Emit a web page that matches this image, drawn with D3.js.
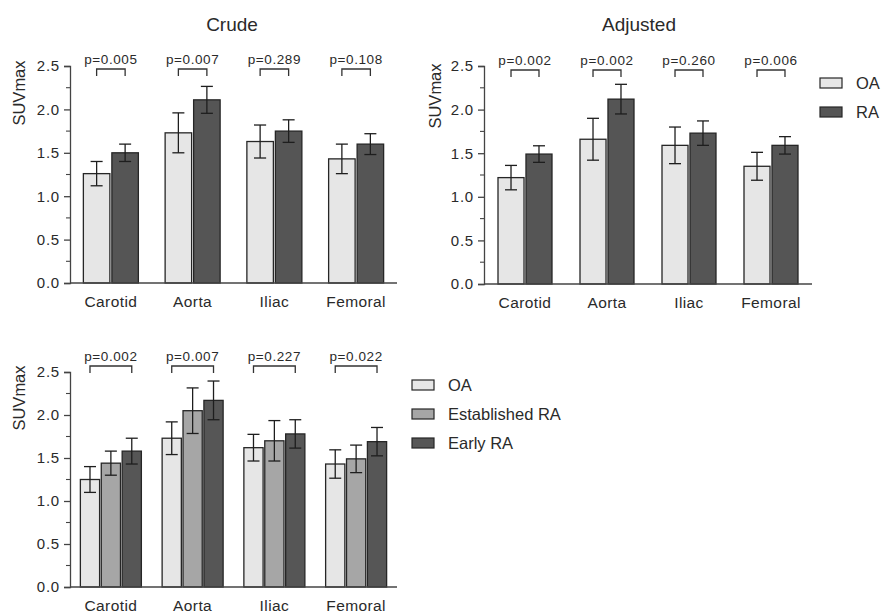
<!DOCTYPE html>
<html><head><meta charset="utf-8">
<script src="https://cdn.jsdelivr.net/npm/d3@7"></script>
<style>
html,body{margin:0;padding:0;background:#fff;}
text{font-family:"Liberation Sans",Arial,Helvetica,sans-serif;fill:#2a2a2a;}
</style></head>
<body><svg id="c" width="884" height="615"></svg>
<script>
// ---- data ----
const categories = ["Carotid", "Aorta", "Iliac", "Femoral"];
const yTicks = [0, 0.5, 1.0, 1.5, 2.0, 2.5];

const crudeOA = [1.26, 1.73, 1.63, 1.43];
const crudeOAErr = [0.14, 0.23, 0.19, 0.17];
const crudeRA = [1.50, 2.11, 1.75, 1.60];
const crudeRAErr = [0.10, 0.155, 0.13, 0.12];
const crudeP = ["p=0.005", "p=0.007", "p=0.289", "p=0.108"];

const adjOA = [1.22, 1.66, 1.59, 1.35];
const adjOAErr = [0.14, 0.24, 0.21, 0.16];
const adjRA = [1.49, 2.12, 1.73, 1.59];
const adjRAErr = [0.095, 0.17, 0.14, 0.10];
const adjP = ["p=0.002", "p=0.002", "p=0.260", "p=0.006"];

const subOA = [1.25, 1.73, 1.62, 1.43];
const subOAErr = [0.15, 0.19, 0.155, 0.165];
const subEst = [1.44, 2.05, 1.70, 1.49];
const subEstErr = [0.14, 0.265, 0.235, 0.16];
const subEarly = [1.58, 2.17, 1.78, 1.69];
const subEarlyErr = [0.15, 0.225, 0.165, 0.165];
const subP = ["p=0.002", "p=0.007", "p=0.227", "p=0.022"];

const groups2 = ["OA", "RA"];
const groups3 = ["OA", "Established RA", "Early RA"];
const colors = {"OA": "#e6e6e6", "RA": "#555555", "Established RA": "#a6a6a6", "Early RA": "#565656"};

// ---- drawing ----
const svg = d3.select("#c");

function panel(cfg) {
  const g = svg.append("g");
  const x = d3.scaleBand().domain(categories).range([cfg.x0, cfg.x1]).paddingInner(0).paddingOuter(0);
  const y = d3.scaleLinear().domain([0, 2.5]).range([cfg.y0, cfg.y1]);
  const inner = d3.scaleBand().domain(cfg.groups).range([0, cfg.groupW]).paddingInner(cfg.gap);
  const off = (x.bandwidth() - cfg.groupW) / 2;

  // bars
  cfg.groups.forEach((s, si) => {
    const vals = cfg.values[si], errs = cfg.errs[si];
    categories.forEach((c, ci) => {
      const bx = x(c) + off + inner(s);
      const bw = inner.bandwidth();
      g.append("rect").attr("x", bx).attr("y", y(vals[ci]))
        .attr("width", bw).attr("height", y(0) - y(vals[ci]))
        .attr("fill", colors[s]).attr("stroke", "#262626").attr("stroke-width", 1.3);
      const cx = bx + bw / 2;
      const hi = y(vals[ci] + errs[ci]), lo = y(vals[ci] - errs[ci]);
      g.append("line").attr("x1", cx).attr("x2", cx).attr("y1", hi).attr("y2", lo)
        .attr("stroke", "#1e1e1e").attr("stroke-width", 1.3);
      [hi, lo].forEach(yy => g.append("line").attr("x1", cx - 6).attr("x2", cx + 6)
        .attr("y1", yy).attr("y2", yy).attr("stroke", "#1e1e1e").attr("stroke-width", 1.3));
    });
  });

  // p-value brackets
  categories.forEach((c, ci) => {
    const first = cfg.groups[0], last = cfg.groups[cfg.groups.length - 1];
    const xa = x(c) + off + inner(first) + inner.bandwidth() / 2;
    const xb = x(c) + off + inner(last) + inner.bandwidth() / 2;
    const by = cfg.bracketY;
    g.append("path").attr("d", `M${xa},${by + 7}V${by}H${xb}V${by + 7}`)
      .attr("fill", "none").attr("stroke", "#333").attr("stroke-width", 1.3);
    g.append("text").attr("x", (xa + xb) / 2).attr("y", by - 5).attr("text-anchor", "middle")
      .attr("font-size", 13.5).attr("letter-spacing", 0.6).text(cfg.p[ci]);
  });

  // y axis
  const yAxis = d3.axisLeft(y).tickValues(yTicks).tickFormat(d3.format(".1f")).tickSize(6).tickPadding(4);
  const ya = g.append("g").attr("transform", `translate(${cfg.x0},0)`).call(yAxis);
  ya.select(".domain").attr("stroke", "#444").attr("stroke-width", 1.3);
  ya.selectAll(".tick line").attr("stroke", "#444").attr("stroke-width", 1.3);
  ya.selectAll(".tick text").attr("font-size", 15).attr("letter-spacing", 0.8)
    .attr("font-family", "Liberation Sans, Arial, sans-serif").attr("fill", "#2a2a2a");
  const minor = d3.range(0.25, 2.5, 0.5);
  ya.selectAll(".minor").data(minor).enter().append("line")
    .attr("x1", -4).attr("x2", 0).attr("y1", d => y(d)).attr("y2", d => y(d))
    .attr("stroke", "#444").attr("stroke-width", 1.1);

  // x axis line
  g.append("line").attr("x1", cfg.x0).attr("x2", cfg.x1).attr("y1", y(0)).attr("y2", y(0))
    .attr("stroke", "#444").attr("stroke-width", 1.3);
  categories.forEach(c => {
    g.append("text").attr("x", x(c) + x.bandwidth() / 2).attr("y", y(0) + 24)
      .attr("text-anchor", "middle").attr("font-size", 15.5).attr("letter-spacing", 0.4).text(c);
  });

  // y label
  g.append("text").attr("transform", `translate(${cfg.labelX},${cfg.labelY}) rotate(-90)`)
    .attr("text-anchor", "middle").attr("font-size", 16.5).text("SUVmax");

  // title
  if (cfg.title) {
    g.append("text").attr("x", cfg.titleX).attr("y", 31).attr("text-anchor", "middle")
      .attr("font-size", 19).text(cfg.title);
  }

  // legend
  if (cfg.legend) {
    cfg.groups.forEach((s, si) => {
      const ly = cfg.legend.y + si * cfg.legend.dy;
      g.append("rect").attr("x", cfg.legend.x).attr("y", ly - 5).attr("width", 22).attr("height", 10)
        .attr("fill", colors[s]).attr("stroke", "#262626").attr("stroke-width", 1.2);
      g.append("text").attr("x", cfg.legend.x + 36).attr("y", ly).attr("dy", "0.35em")
        .attr("font-size", 16.5).text(s);
    });
  }
}

panel({x0: 70, x1: 397, y0: 283, y1: 66, groups: groups2, values: [crudeOA, crudeRA], errs: [crudeOAErr, crudeRAErr],
  p: crudeP, groupW: 55, gap: 0.07, bracketY: 69, labelX: 25, labelY: 93, title: "Crude", titleX: 232});
panel({x0: 484, x1: 812, y0: 284, y1: 66, groups: groups2, values: [adjOA, adjRA], errs: [adjOAErr, adjRAErr],
  p: adjP, groupW: 54, gap: 0.07, bracketY: 70, labelX: 441, labelY: 96, title: "Adjusted", titleX: 639,
  legend: {x: 820, y: 83, dy: 29}});
panel({x0: 70, x1: 397, y0: 587, y1: 372, groups: groups3, values: [subOA, subEst, subEarly], errs: [subOAErr, subEstErr, subEarlyErr],
  p: subP, groupW: 61, gap: 0.08, bracketY: 366, labelX: 25, labelY: 398,
  legend: {x: 412, y: 385, dy: 29}});
</script>
</body></html>
